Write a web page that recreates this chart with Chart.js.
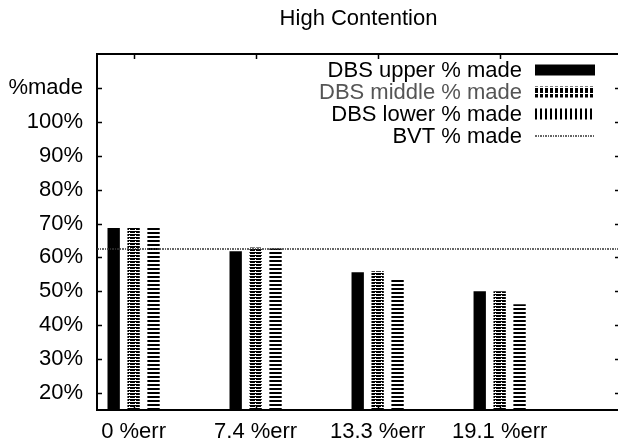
<!DOCTYPE html>
<html>
<head>
<meta charset="utf-8">
<script src="https://cdn.jsdelivr.net/npm/chart.js@4.4.1/dist/chart.umd.min.js"></script>
<style>
  body { margin: 0; background: #fff; }
  canvas { display: block; }
</style>
</head>
<body>
<canvas id="barChart" width="618" height="445"></canvas>
<script>
/* datos del grafico */
var categories = ['0 %err', '7.4 %err', '13.3 %err', '19.1 %err'];
var upperMade = [68.7, 61.8, 55.6, 50.0];
var middleMade = [68.8, 62.9, 55.9, 50.0];
var lowerMade = [69.1, 62.6, 53.8, 46.2];
var bvtMade = 62.5;
var yTicks = [20, 30, 40, 50, 60, 70, 80, 90, 100, 110];
var yMin = 15, yMax = 120;
var xMin = -0.3, xMax = 3.97;

var FONT = '"Liberation Sans", Arial, sans-serif';

function makePattern(w, h, draw) {
    var c = document.createElement('canvas');
    c.width = w;
    c.height = h;
    var g = c.getContext('2d');
    g.fillStyle = '#fff';
    g.fillRect(0, 0, w, h);
    g.fillStyle = '#000';
    draw(g);
    return g.createPattern(c, 'repeat');
}

// barras: rayas horizontales
var middleFill = makePattern(6, 3, function (g) { g.fillRect(0, 0, 6, 2); g.clearRect(3, 1, 1, 1); });
var lowerFill = makePattern(4, 4, function (g) { g.fillRect(0, 0, 4, 2); });
// leyenda: rayas verticales
var middleKey = makePattern(5, 6, function (g) { g.fillRect(0, 0, 3, 6); g.clearRect(0, 3, 3, 1); });
var lowerKey = makePattern(5, 4, function (g) { g.fillRect(0, 0, 2, 4); });

function toPoints(values) {
    var pts = [];
    for (var i in values) pts.push({ x: Number(i), y: values[i] });
    return pts;
}

var chartdata = {
    datasets: [
    {
        type: 'line',
        label: 'BVT % made',
        data: [{ x: xMin, y: bvtMade }, { x: xMax, y: bvtMade }],
        borderColor: '#333',
        borderWidth: 1.5,
        borderDash: [2, 1, 1, 1],
        pointRadius: 0,
        order: -1
    },
    {
        label: 'DBS upper % made',
        data: toPoints(upperMade),
        backgroundColor: '#000',
        keyFill: '#000',
        borderWidth: 0
    },
    {
        label: 'DBS middle % made',
        data: toPoints(middleMade),
        backgroundColor: middleFill,
        keyFill: middleKey,
        keyColor: '#555',
        borderWidth: 0
    },
    {
        label: 'DBS lower % made',
        data: toPoints(lowerMade),
        backgroundColor: lowerFill,
        keyFill: lowerKey,
        borderWidth: 0
    }
    ]
};

// marco, marcas internas, titulo y leyenda al estilo gnuplot
var framePlugin = {
    id: 'frame',
    afterDraw: function (chart) {
        var ctx = chart.ctx;
        var a = chart.chartArea;
        var xs = chart.scales.x, ys = chart.scales.y;
        ctx.save();
        ctx.strokeStyle = '#000';
        ctx.lineWidth = 2;
        ctx.beginPath();
        ctx.moveTo(a.left, a.top);
        ctx.lineTo(a.right, a.top);
        ctx.stroke();

        ctx.lineWidth = 1.5;
        ctx.beginPath();
        for (var i in yTicks) {
            var py = Math.round(ys.getPixelForValue(yTicks[i])) + 0.5;
            ctx.moveTo(a.left, py); ctx.lineTo(a.left + 5, py);
            ctx.moveTo(a.right - 3, py); ctx.lineTo(a.right, py);
        }
        for (var j in categories) {
            var px = Math.round(xs.getPixelForValue(Number(j))) + 0.5;
            ctx.moveTo(px, a.top); ctx.lineTo(px, a.top + 5);
            ctx.moveTo(px, a.bottom); ctx.lineTo(px, a.bottom - 5);
        }
        ctx.stroke();

        // titulo
        ctx.fillStyle = '#000';
        ctx.font = '22px ' + FONT;
        ctx.textAlign = 'center';
        ctx.textBaseline = 'middle';
        ctx.fillText('High Contention', (a.left + a.right) / 2 + 1, 19);

        // leyenda
        var order = [1, 2, 3, 0];
        for (var k = 0; k < order.length; k++) {
            var ds = chart.data.datasets[order[k]];
            var ry = a.top + 16 + 22 * k;
            ctx.textAlign = 'right';
            ctx.fillStyle = ds.keyColor || '#000';
            ctx.fillText(ds.label, a.right - 96, ry + 1);
            if (ds.type === 'line') {
                ctx.strokeStyle = ds.borderColor;
                ctx.lineWidth = ds.borderWidth;
                ctx.setLineDash(ds.borderDash);
                ctx.beginPath();
                ctx.moveTo(a.right - 83, ry);
                ctx.lineTo(a.right - 23, ry);
                ctx.stroke();
                ctx.setLineDash([]);
            } else {
                ctx.fillStyle = ds.keyFill;
                ctx.fillRect(a.right - 83, ry - 5.5, 60, 11);
            }
        }
        ctx.restore();
    }
};

var graphTarget = document.getElementById('barChart');

var barGraph = new Chart(graphTarget, {
    type: 'bar',
    data: chartdata,
    plugins: [framePlugin],
    options: {
        responsive: false,
        animation: false,
        layout: { padding: { top: 54, left: 0, right: 0, bottom: 0 } },
        datasets: {
            bar: { categoryPercentage: 0.49, barPercentage: 0.62 }
        },
        plugins: {
            legend: { display: false },
            title: { display: false },
            tooltip: { enabled: false }
        },
        scales: {
            x: {
                type: 'linear',
                offset: false,
                min: xMin,
                max: xMax,
                afterBuildTicks: function (scale) {
                    scale.ticks = categories.map(function (c, i) { return { value: i }; });
                },
                afterFit: function (scale) { scale.height = 35; },
                ticks: {
                    padding: 9,
                    color: '#000',
                    font: { family: FONT, size: 22 },
                    callback: function (value) { return categories[value]; }
                },
                grid: { drawOnChartArea: false, drawTicks: false, offset: false },
                border: { display: true, color: '#000', width: 2 }
            },
            y: {
                min: yMin,
                max: yMax,
                afterBuildTicks: function (scale) {
                    scale.ticks = yTicks.map(function (v) { return { value: v }; });
                },
                afterFit: function (scale) { scale.width = 97; },
                ticks: {
                    padding: 14,
                    color: '#000',
                    font: { family: FONT, size: 22 },
                    callback: function (value) { return value === 110 ? '%made' : value + '%'; }
                },
                grid: { drawOnChartArea: false, drawTicks: false },
                border: { display: true, color: '#000', width: 2 }
            }
        }
    }
});
</script>
</body>
</html>
